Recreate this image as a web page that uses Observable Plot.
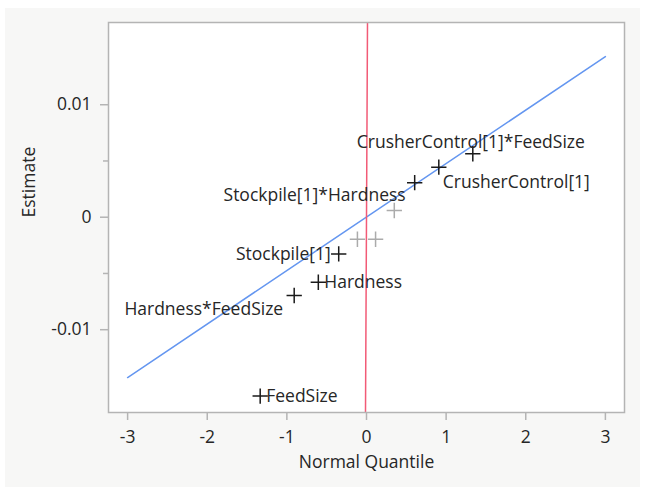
<!DOCTYPE html>
<html>
<head>
<meta charset="utf-8">
<script src="https://cdn.jsdelivr.net/npm/d3@7"></script>
<script src="https://cdn.jsdelivr.net/npm/@observablehq/plot@0.6"></script>
<style>
  html, body { margin: 0; padding: 0; background: #ffffff; }
  #panel { position: absolute; left: 5px; top: 8px; width: 635px; height: 479px; background: #f7f7f6; }
  #chart { position: absolute; left: 0; top: 0; }
</style>
</head>
<body>
<div id="panel"></div>
<div id="chart"></div>
<script>
// Effect estimates plotted against normal quantiles
const labeledTerms = [
  "FeedSize",
  "Hardness*FeedSize",
  "Hardness",
  "Stockpile[1]",
  "Stockpile[1]*Hardness",
  "CrusherControl[1]",
  "CrusherControl[1]*FeedSize"
];
const labeledQuantiles = [-1.335, -0.908, -0.605, -0.349, 0.605, 0.908, 1.335];
const labeledEstimates = [-0.0159, -0.00696, -0.00578, -0.00326, 0.00307, 0.00445, 0.00564];

// Remaining (unlabeled) effects, drawn in gray
const otherQuantiles = [-0.114, 0.114, 0.349];
const otherEstimates = [-0.00196, -0.00196, 0.0006];

// Reference lines
const blueLineQuantiles = [-3, 3];
const blueLineEstimates = [-0.01425, 0.01428];
const redLineQuantiles = [-0.0126, 0.0126];
const redLineEstimates = [-0.0174, 0.0174];

// Axis ticks
const xTicks = [-3, -2, -1, 0, 1, 2, 3];
const yTicks = [-0.01, 0, 0.01];
const yMinorTicks = [-0.005, 0.005];

const labeled = labeledTerms.map((term, i) => ({term, q: labeledQuantiles[i], e: labeledEstimates[i]}));
const others = otherQuantiles.map((q, i) => ({q, e: otherEstimates[i]}));
const blueLine = blueLineQuantiles.map((q, i) => ({q, e: blueLineEstimates[i]}));
const redLine = redLineQuantiles.map((q, i) => ({q, e: redLineEstimates[i]}));

// Where each label sits relative to its marker
const labelPlacement = {
  "FeedSize": {textAnchor: "start", dx: 6, dy: 0},
  "Hardness*FeedSize": {textAnchor: "end", dx: -11, dy: 14},
  "Hardness": {textAnchor: "start", dx: 6, dy: 0},
  "Stockpile[1]": {textAnchor: "end", dx: -8, dy: 1},
  "Stockpile[1]*Hardness": {textAnchor: "end", dx: -9, dy: 13},
  "CrusherControl[1]": {textAnchor: "start", dx: 4, dy: 15},
  "CrusherControl[1]*FeedSize": {textAnchor: "middle", dx: -2, dy: -11}
};

const fmt = d => String(d);
const textColor = "#262626";
const axisGray = "#b4b4b4";

const chart = Plot.plot({
  width: 645,
  height: 489,
  marginLeft: 108,
  marginRight: 21,
  marginTop: 22,
  marginBottom: 77,
  style: {background: "transparent", fontFamily: "'Open Sans', sans-serif", fontSize: "17.5px", color: textColor},
  x: {domain: [-3.24, 3.24]},
  y: {domain: [-0.01736, 0.01731]},
  marks: [
    Plot.frame({fill: "white", stroke: null}),
    Plot.axisX({ticks: xTicks, tickSize: 8, tickPadding: 10, tickFormat: fmt, stroke: axisGray, strokeWidth: 1.5, fill: textColor, label: null}),
    Plot.axisY({ticks: yTicks, tickSize: 8, tickPadding: 9, tickFormat: fmt, stroke: axisGray, strokeWidth: 1.5, fill: textColor, label: null}),
    Plot.axisY({ticks: yMinorTicks, tickSize: 5, tickFormat: () => "", stroke: axisGray, strokeWidth: 1.5, label: null}),
    Plot.line(blueLine, {x: "q", y: "e", stroke: "#6496f0", strokeWidth: 1.5, clip: true}),
    Plot.line(redLine, {x: "q", y: "e", stroke: "#f25a76", strokeWidth: 1.5, clip: true}),
    Plot.dot(others, {x: "q", y: "e", symbol: "plus", r: 5, stroke: "#ababab", strokeWidth: 1.5}),
    Plot.dot(labeled, {x: "q", y: "e", symbol: "plus", r: 5, stroke: "#1a1a1a", strokeWidth: 1.5}),
    ...labeled.map(d => Plot.text([d], {x: "q", y: "e", text: "term", fill: textColor, ...labelPlacement[d.term]})),
    Plot.frame({stroke: axisGray, strokeWidth: 1.5}),
    Plot.text(["Estimate"], {text: d => d, frameAnchor: "left", dx: -79, rotate: -90, fill: textColor}),
    Plot.text(["Normal Quantile"], {text: d => d, frameAnchor: "bottom", dy: 55, fill: textColor})
  ]
});

document.getElementById("chart").append(chart);
</script>
</body>
</html>
